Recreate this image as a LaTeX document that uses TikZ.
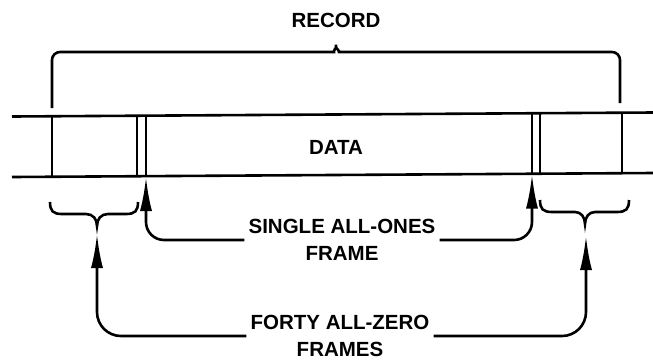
\documentclass[tikz,border=0pt]{standalone}
\usepackage{fontspec}
\setmainfont{Liberation Sans}
\usetikzlibrary{positioning, arrows.meta}

\begin{document}
\begin{tikzpicture}[x=1pt, y=-1pt, line width=2.6pt,
    lbl/.style={font=\bfseries\fontsize{20.5}{26.5}\selectfont, align=center, inner sep=3pt},
    arr/.style={-{Latex[length=34pt,width=12pt]}, rounded corners=18pt},
    brc/.style={rounded corners=8pt}]
	\useasboundingbox (0,0) rectangle (653,360);

	% tape (drawn slightly skewed, as in the original)
	\draw (12,116.5) -- (653,112.5);
	\draw (12,177) -- (653,173);
	\foreach \x in {52,137,146,532,540,622}
		\draw (\x,{116.5-4*(\x-12)/641}) -- (\x,{177-4*(\x-12)/641});

	\node[lbl] (record) at (336,20) {RECORD};
	\node[lbl] (data) at (336,147) {DATA};
	\node[lbl] (ones) at (342,240) {SINGLE ALL-ONES\\FRAME};
	\node[lbl] (forty) at (340,336) {FORTY ALL-ZERO\\FRAMES};

	\coordinate (oneL) at (146,177);
	\coordinate (oneR) at (532,174.5);
	\coordinate (zeroL) at (97,234);
	\coordinate (zeroR) at (586,236);

	% braces
	\draw[brc] (52,108) -- (52,52) -- (326,52)
		.. controls (333,52) and (336,47) .. (336,40)
		.. controls (336,47) and (340,52) .. (347,52) -- (620,52) -- (620,103);
	\draw (50,202) .. controls (50,211) and (53,214) .. (62,214) -- (86,214)
		.. controls (93,214) and (97,219) .. (97,226)
		.. controls (97,219) and (101,214) .. (108,214) -- (126,214)
		.. controls (135,214) and (138,211) .. (138,202);
	\draw (540,200) .. controls (540,209) and (543,212) .. (552,212) -- (575,212)
		.. controls (581,212) and (585,217) .. (585,224)
		.. controls (585,217) and (589,212) .. (595,212) -- (617,212)
		.. controls (626,212) and (629,209) .. (629,200);

	% arrows
	\draw[arr] (ones.west) -| (oneL);
	\draw[arr] (ones.east) -| (oneR);
	\draw[arr, rounded corners=24pt] (forty.west) -| (zeroL);
	\draw[arr, rounded corners=24pt] (forty.east) -| (zeroR);
\end{tikzpicture}
\end{document}
